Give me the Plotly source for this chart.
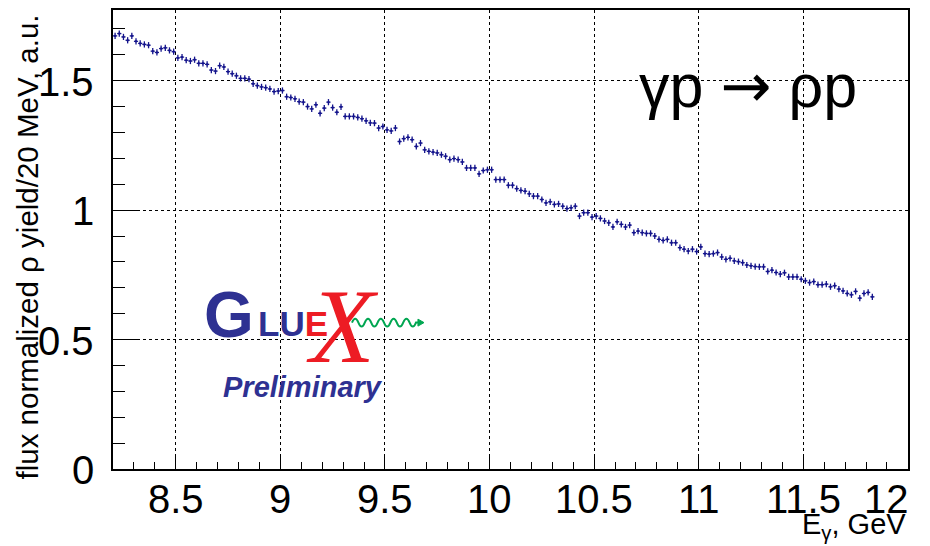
import plotly.graph_objects as go

# ---- data ----
yield_norm = [
    1.673, 1.682, 1.669, 1.656, 1.673, 1.652, 1.644, 1.640, 1.637, 1.614, 1.609, 1.624, 1.627, 1.617, 1.612, 1.588,
    1.591, 1.579, 1.576, 1.581, 1.567, 1.567, 1.563, 1.541, 1.537, 1.558, 1.553, 1.535, 1.527, 1.519, 1.509, 1.509,
    1.506, 1.488, 1.481, 1.476, 1.473, 1.468, 1.458, 1.460, 1.462, 1.438, 1.435, 1.430, 1.419, 1.417, 1.400, 1.391,
    1.407, 1.374, 1.394, 1.417, 1.396, 1.378, 1.399, 1.362, 1.362, 1.362, 1.358, 1.353, 1.345, 1.337, 1.336,
    1.317, 1.323, 1.310, 1.306, 1.317, 1.265, 1.276, 1.281, 1.272, 1.246, 1.259, 1.233, 1.227, 1.224, 1.221, 1.214,
    1.208, 1.195, 1.199, 1.195, 1.186, 1.163, 1.163, 1.163, 1.140, 1.153, 1.156, 1.156, 1.118, 1.118, 1.118,
    1.096, 1.096, 1.083, 1.076, 1.073, 1.063, 1.054, 1.054, 1.041, 1.028, 1.032, 1.022, 1.024, 1.015, 1.006, 1.009,
    1.015, 0.977, 0.990, 0.990, 0.973, 0.977, 0.968, 0.958, 0.951, 0.935, 0.955, 0.945, 0.935, 0.942, 0.913,
    0.919, 0.913, 0.910, 0.910, 0.900, 0.887, 0.883, 0.887, 0.874, 0.874, 0.855, 0.849, 0.842, 0.849, 0.840, 0.858,
    0.832, 0.830, 0.832, 0.836, 0.819, 0.810, 0.814, 0.804, 0.801, 0.797, 0.788, 0.785, 0.782, 0.781, 0.781,
    0.763, 0.768, 0.759, 0.753, 0.758, 0.742, 0.742, 0.742, 0.733, 0.727, 0.720, 0.724, 0.712, 0.712, 0.714, 0.704,
    0.708, 0.695, 0.688, 0.678, 0.673, 0.686, 0.660, 0.678, 0.682, 0.665,
]
bin_start = 8.20   # GeV, first bin low edge
bin_width = 0.02   # GeV (20 MeV bins)
e_gamma = [round(bin_start + bin_width * (i + 0.5), 3) for i in range(len(yield_norm))]
y_err = 0.012

x_tickvals = [8.5, 9, 9.5, 10, 10.5, 11, 11.5, 12]
x_ticktext = ["8.5", "9", "9.5", "10", "10.5", "11", "11.5", "12"]
y_tickvals = [0, 0.5, 1, 1.5]
y_ticktext = ["0", "0.5", "1", "1.5"]

# ---- layout geometry ----
W, H = 930, 546
L, R, T, B = 113, 22, 8, 77
PW, PH = W - L - R, H - T - B


def px(xp):
    return (xp - L) / PW


def py(yp):
    return (H - B - yp) / PH


FONT = "Liberation Sans, Arial, Helvetica, sans-serif"
BLUE = "#14148c"
LOGO_BLUE = "#2e3192"
LOGO_RED = "#ed1c24"
LOGO_GREEN = "#00a651"

fig = go.Figure()
fig.add_trace(go.Scatter(
    x=e_gamma, y=yield_norm, mode="markers",
    marker=dict(color=BLUE, size=2, symbol="square"),
    error_y=dict(type="constant", value=y_err, color=BLUE, thickness=1.3, width=0),
    error_x=dict(type="constant", value=bin_width / 2, color=BLUE, thickness=1.3, width=0),
    showlegend=False, hoverinfo="x+y",
))

axis_common = dict(
    showline=True, linecolor="black", linewidth=1.5, mirror=True,
    showgrid=True, gridcolor="black", griddash="dot", gridwidth=1,
    zeroline=False, ticks="inside", tickcolor="black", tickwidth=1,
    showticklabels=False,
)

fig.update_xaxes(
    range=[8.2, 12.0005], tickmode="array", tickvals=x_tickvals,
    ticklen=14,
    minor=dict(ticks="inside", ticklen=7, dtick=0.1, tick0=8.2, tickcolor="black", showgrid=False),
    **axis_common,
)
fig.update_yaxes(
    range=[0, 1.773], tickmode="array", tickvals=y_tickvals,
    ticklen=24,
    minor=dict(ticks="inside", ticklen=12, dtick=0.1, tick0=0, tickcolor="black", showgrid=False),
    **axis_common,
)

TICKFONT = dict(family=FONT, size=40, color="black")
annotations = [
    # axis titles
    dict(text="flux normalized ρ yield/20 MeV, a.u.", textangle=-90,
         x=px(27), y=py(11), xanchor="center", yanchor="top",
         font=dict(family=FONT, size=29.5, color="black")),
    dict(text="E<sub>γ</sub>, GeV", x=px(908), y=py(526), xanchor="right", yanchor="middle",
         font=dict(family=FONT, size=29, color="black")),
    # reaction label
    dict(text="γp <span style='font-family:DejaVu Sans'>→</span> ρp", x=px(748), y=py(84),
         xanchor="center", yanchor="middle",
         font=dict(family=FONT, size=61, color="black")),
    # GlueX logo
    dict(text="G", x=px(229), y=py(314), xanchor="center", yanchor="middle",
         font=dict(family=FONT, size=64, color=LOGO_BLUE, weight="bold")),
    dict(text="LU<span style='color:%s'>E</span>" % LOGO_RED, x=px(256), y=py(323),
         xanchor="left", yanchor="middle",
         font=dict(family=FONT, size=35, color=LOGO_BLUE, weight="bold")),
    dict(text="X", x=px(342), y=py(326), xanchor="center", yanchor="middle",
         font=dict(family="Liberation Serif, serif", size=106, color=LOGO_RED, style="italic")),
    dict(text="Preliminary", x=px(303), y=py(387), xanchor="center", yanchor="middle",
         font=dict(family=FONT, size=29, color=LOGO_BLUE, weight="bold", style="italic")),
]
# x tick labels, placed on the x axis scale (last one kept inside the canvas, as in the original)
for v, t in zip(x_tickvals, x_ticktext):
    last = v == x_tickvals[-1]
    annotations.append(dict(text=t, x=v, xref="x", y=py(499), yref="paper",
                            xanchor="right" if last else "center", xshift=3 if last else 0,
                            yanchor="middle", font=TICKFONT))
# y tick labels, placed on the y axis scale
for v, t in zip(y_tickvals, y_ticktext):
    annotations.append(dict(text=t, x=px(96), xref="paper", y=v, yref="y",
                            xanchor="right", yanchor="middle", yshift=-1, font=TICKFONT))
for a in annotations:
    a.setdefault("xref", "paper")
    a.setdefault("yref", "paper")
    a["showarrow"] = False
fig.update_layout(annotations=annotations)

# decorative green wave of the logo
x0, x1, yc, amp, half = 352, 416, 322, 4, 6.4
path = "M %.4f %.4f" % (px(x0), py(yc))
xp, k = x0, 0
while xp + half <= x1 + 0.1:
    sgn = -1 if k % 2 == 0 else 1
    path += " Q %.4f %.4f %.4f %.4f" % (px(xp + half / 2), py(yc + sgn * 2 * amp), px(xp + half), py(yc))
    xp += half
    k += 1
path += " L %.4f %.4f" % (px(x1 + 5), py(yc))
fig.add_shape(type="path", path=path, xref="paper", yref="paper",
              line=dict(color=LOGO_GREEN, width=2))
fig.add_shape(type="path",
              path="M %.4f %.4f L %.4f %.4f L %.4f %.4f Z" % (px(x1 + 8), py(yc), px(x1 + 2), py(yc - 3.5), px(x1 + 2), py(yc + 3.5)),
              xref="paper", yref="paper", line=dict(color=LOGO_GREEN, width=1), fillcolor=LOGO_GREEN)

fig.update_layout(
    width=W, height=H,
    margin=dict(l=L, r=R, t=T, b=B, pad=0),
    paper_bgcolor="white", plot_bgcolor="white",
    showlegend=False,
)

fig.write_html("out.html")
